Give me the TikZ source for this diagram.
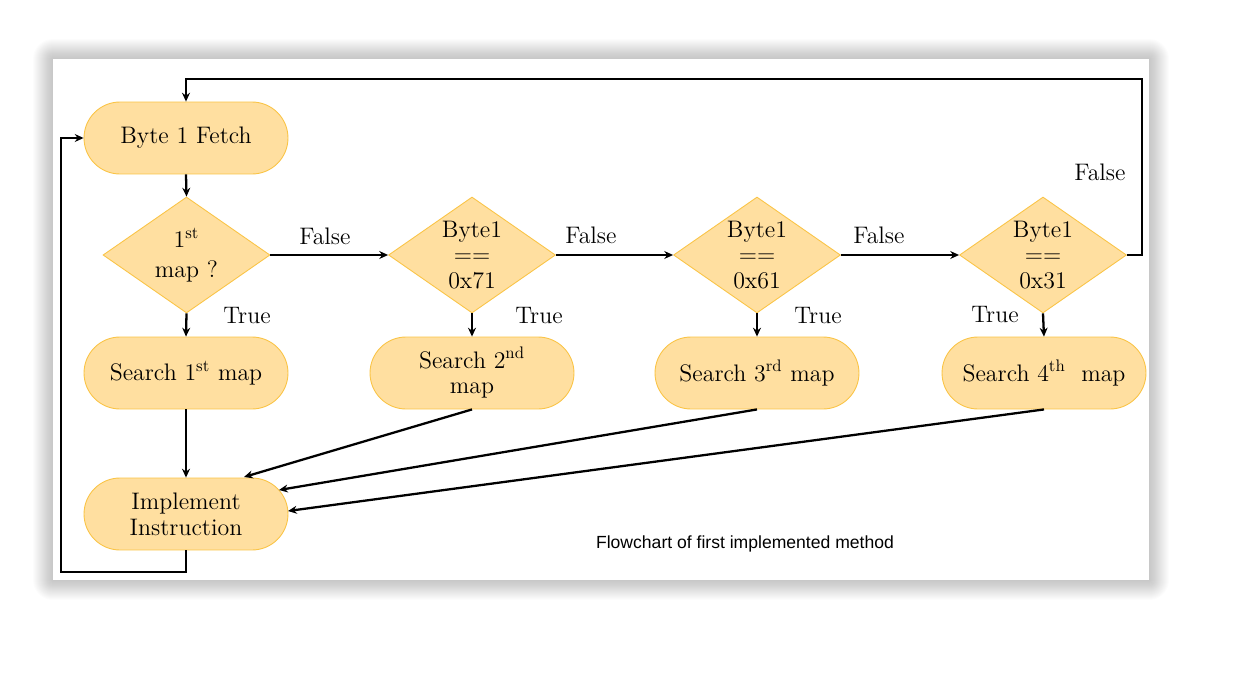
\documentclass[tikz,border=0pt]{standalone}
\usepackage{fontspec}
\newfontfamily\capfont{Liberation Sans}
\usetikzlibrary{shapes.geometric,shapes.misc,arrows.meta,calc}
\definecolor{boxfill}{RGB}{255,223,160}
\definecolor{boxline}{RGB}{250,196,70}
\tikzset{
  term/.style={rounded rectangle, draw=boxline, fill=boxfill, line width=0.5pt,
    minimum width=4.08cm, minimum height=1.44cm, inner sep=0pt, align=center,
    font=\fontsize{13.6}{14.7}\selectfont},
  dec/.style={diamond, draw=boxline, fill=boxfill, line width=0.5pt,
    minimum width=3.34cm, minimum height=2.32cm, inner sep=0pt},
  dtext/.style={align=center, inner sep=0pt, font=\fontsize{13.6}{14.7}\selectfont},
  arr/.style={line width=1.3pt, -{Stealth[length=5pt,width=4.5pt]}},
  lbl/.style={font=\fontsize{13.6}{14.7}\selectfont, inner sep=0pt},
}
\begin{document}
\begin{tikzpicture}[x=0.02cm,y=-0.02cm]
\useasboundingbox (0,0) rectangle (1242,700);
% card shadow
\foreach \i in {1,...,20}{
  \fill[black, opacity=0.01, rounded corners=\i*0.02cm] (53-\i,59-\i) rectangle (1149+\i,580+\i);
}
\fill[white] (53,59) rectangle (1149,580);

% nodes
\node[term] (fetch) at (186,138) {Byte 1 Fetch};
\node[dec] (d1) at (186.5,255) {};
\node[dec] (d2) at (472,255) {};
\node[dec] (d3) at (757,255) {};
\node[dec] (d4) at (1043,255) {};
\node[dtext] (d1t) at (d1) {1\textsuperscript{st}\\[2pt]map ?};
\node[dtext] (d2t) at (d2) {Byte1\\==\\0x71};
\node[dtext] (d3t) at (d3) {Byte1\\==\\0x61};
\node[dtext] (d4t) at (d4) {Byte1\\==\\0x31};
\node[term] (s1) at (186,373) {Search 1\textsuperscript{st} map};
\node[term] (s2) at (472,373) {Search 2\textsuperscript{nd}\\map};
\node[term] (s3) at (757,373) {Search 3\textsuperscript{rd} map};
\node[term] (s4) at (1044,373) {Search 4\textsuperscript{th}\ \ map};
\node[term] (impl) at (186,514) {Implement\\Instruction};

% labels
\node[lbl] (lf1) at (325,236) {False};
\node[lbl] (lf2) at (591,235) {False};
\node[lbl] (lf3) at (879,235) {False};
\node[lbl] (lf4) at (1100,172) {False};
\node[lbl] (lt1) at (247,316) {True};
\node[lbl] (lt2) at (539,316) {True};
\node[lbl] (lt3) at (818,316) {True};
\node[lbl] (lt4) at (995,315) {True};
\node[font=\capfont\fontsize{10}{12}\selectfont, inner sep=0pt] (cap) at (745,544) {Flowchart of first implemented method};

% coordinates
\coordinate (trc) at (1142,79);
\coordinate (blc) at (61,572);
\coordinate (i2) at (244,477);
\coordinate (i3) at (279,490);
\coordinate (i4) at (288,511);

% connectors
\draw[arr] (fetch.south) -- (d1.north);
\draw[arr] (d1.east) -- (d2.west);
\draw[arr] (d2.east) -- (d3.west);
\draw[arr] (d3.east) -- (d4.west);
\draw[arr] (d1.south) -- (s1.north);
\draw[arr] (d2.south) -- (s2.north);
\draw[arr] (d3.south) -- (s3.north);
\draw[arr] (d4.south) -- (s4.north);
\draw[arr] (s1.south) -- (impl.north);
\draw[arr] (s2.south) -- (i2);
\draw[arr] (s3.south) -- (i3);
\draw[arr] (s4.south) -- (i4);
\draw[arr] (d4.east) -| (trc) -| (fetch.north);
\draw[arr] (impl.south) |- (blc) |- (fetch.west);
\end{tikzpicture}
\end{document}
